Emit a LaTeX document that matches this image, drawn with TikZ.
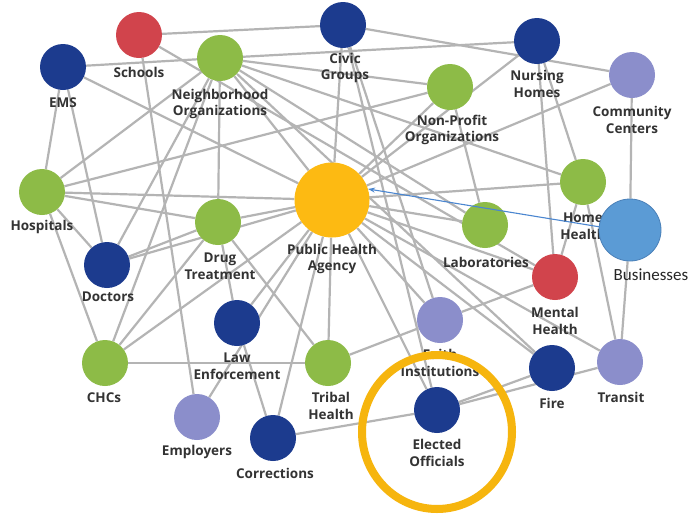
\documentclass[tikz,border=0pt]{standalone}
\usepackage{fontspec}
\setmainfont{Open Sans}
\newfontfamily\bizfont{Carlito}
\usetikzlibrary{backgrounds,arrows.meta}
\definecolor{navyc}{HTML}{1C3B8E}
\definecolor{greenc}{HTML}{8DBB47}
\definecolor{redc}{HTML}{D1444C}
\definecolor{lavc}{HTML}{8B8ECB}
\definecolor{yellc}{HTML}{FDBA12}
\definecolor{bizc}{HTML}{5B9BD5}
\definecolor{bizline}{HTML}{4A80B8}
\definecolor{ringc}{HTML}{F6B50E}
\definecolor{edgec}{HTML}{B4B4B4}
\definecolor{arrowc}{HTML}{4A86D0}
\definecolor{txtc}{HTML}{333333}
\newcommand\dglabelfont{\fontsize{13.5}{16.5}\selectfont\bfseries}
\begin{document}
\begin{tikzpicture}[x=1pt,y=-1pt,
  hub/.style={circle,inner sep=0pt,minimum size=46pt},
  navyhub/.style={hub,fill=navyc},
  greenhub/.style={hub,fill=greenc},
  redhub/.style={hub,fill=redc},
  lavhub/.style={hub,fill=lavc},
  lbl/.style={font=\dglabelfont,text=txtc,align=center,inner sep=0pt},
  edge/.style={draw=edgec,line width=2.2pt}]
\useasboundingbox (0,0) rectangle (691,517);
% hubs
\node[redhub]   (sch) at (139,35) {};
\node[navyhub]  (ems) at (63,67) {};
\node[greenhub] (nei) at (220,58) {};
\node[navyhub]  (civ) at (343,25) {};
\node[navyhub]  (nur) at (537,41) {};
\node[greenhub] (npo) at (450,87) {};
\node[lavhub]   (com) at (632,75) {};
\node[greenhub] (hos) at (42,192) {};
\node[hub,fill=yellc,minimum size=75pt] (pha) at (332,200) {};
\node[greenhub] (dru) at (218,222) {};
\node[greenhub] (hom) at (583,182) {};
\node[greenhub] (lab) at (485,225) {};
\node[navyhub]  (doc) at (107,265) {};
\node[redhub]   (men) at (555,277) {};
\node[navyhub]  (law) at (237,323) {};
\node[lavhub]   (fai) at (440,320) {};
\node[greenhub] (chc) at (105,363) {};
\node[greenhub] (tri) at (328,363) {};
\node[navyhub]  (fir) at (552,368) {};
\node[lavhub]   (tra) at (620,362) {};
\node[lavhub]   (emp) at (197,417) {};
\node[navyhub]  (cor) at (273,438) {};
\node[navyhub]  (ele) at (437,410) {};
% labels
\node[lbl] (l-sch) at (139,72) {Schools};
\node[lbl] (l-ems) at (63,103) {EMS};
\node[lbl] (l-nei) at (220,104) {Neighborhood\\Organizations};
\node[lbl] (l-civ) at (345,68) {Civic\\Groups};
\node[lbl] (l-nur) at (537,84) {Nursing\\Homes};
\node[lbl] (l-npo) at (452,130) {Non-Profit\\Organizations};
\node[lbl] (l-com) at (632,120) {Community\\Centers};
\node[lbl] (l-hos) at (42,227) {Hospitals};
\node[lbl] (l-pha) at (332,259) {Public Health\\Agency};
\node[lbl] (l-dru) at (220,266) {Drug\\Treatment};
\node[lbl] (l-hom) at (583,226) {Home\\Health};
\node[lbl] (l-lab) at (486,262) {Laboratories};
\node[lbl] (l-doc) at (108,297) {Doctors};
\node[lbl] (l-men) at (555,321) {Mental\\Health};
\node[lbl] (l-law) at (237,366) {Law\\Enforcement};
\node[lbl] (l-fai) at (440,363) {Faith\\Institutions};
\node[lbl] (l-chc) at (104,398) {CHCs};
\node[lbl] (l-tri) at (331,406) {Tribal\\Health};
\node[lbl] (l-fir) at (552,403) {Fire};
\node[lbl] (l-tra) at (621,397) {Transit};
\node[lbl] (l-emp) at (197,452) {Employers};
\node[lbl] (l-cor) at (275,473) {Corrections};
\node[lbl] (l-ele) at (437,453) {Elected\\Officials};
% businesses (drawn over Home Health label)
\node[hub,fill=bizc,draw=bizline,line width=0.8pt,minimum size=62pt] (bus) at (630,230) {};
\node[font=\bizfont\fontsize{17}{20}\selectfont,text=black!85,inner sep=0pt] (l-bus) at (651,275) {Businesses};
% edges
\begin{scope}[on background layer]
\fill[white] (0,0) rectangle (691,517);
\foreach \a/\b in {sch/civ,sch/emp,sch/men,
  ems/nei,ems/pha,ems/hos,ems/doc,
  nei/nur,nei/npo,nei/hom,nei/dru,nei/hos,nei/chc,nei/doc,nei/pha,nei/lab,nei/fir,
  civ/com,civ/pha,civ/fai,civ/ele,
  nur/pha,nur/hom,nur/men,
  npo/lab,npo/pha,npo/hos,
  com/bus,com/pha,
  hos/pha,hos/dru,hos/doc,hos/chc,
  pha/hom,pha/lab,pha/men,pha/tra,pha/fir,pha/fai,pha/dru,pha/doc,pha/chc,pha/law,pha/cor,pha/tri,pha/emp,pha/ele,
  doc/dru,dru/law,dru/tri,dru/chc,
  law/cor,cor/ele,tri/fai,tri/chc,fai/men,
  ele/fir,ele/tra,tra/bus,hom/tra,hom/men}
  \draw[edge] (\a) -- (\b);
\end{scope}
% arrow
\draw[arrowc,line width=1.1pt,-{Stealth[length=7pt,width=5pt]}] (bus.174) -- (pha.17);
% highlight ring
\draw[ringc,line width=8pt] (437,432) ellipse [x radius=75, y radius=77];
\end{tikzpicture}
\end{document}
